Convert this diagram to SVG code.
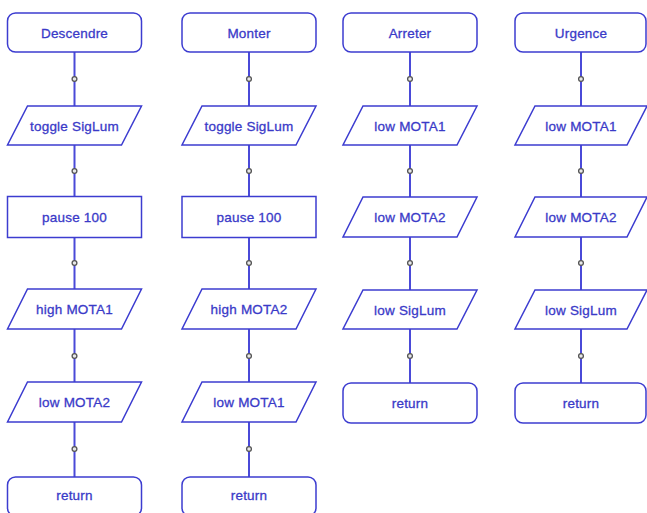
<svg xmlns="http://www.w3.org/2000/svg" width="647" height="513" viewBox="0 0 647 513">
<style>
.s{fill:#ffffff;stroke:#3c3cd0;stroke-width:1.5}
.t{font-family:"Liberation Sans",Arial,sans-serif;font-size:13.5px;fill:#3a3ac8;text-anchor:middle;stroke:#3a3ac8;stroke-width:0.3;letter-spacing:0.2px}
.c{stroke:#4a4ad8;stroke-width:2;fill:none}
.d{fill:#e8e8e8;stroke:#555555;stroke-width:1.3}
</style>
<rect width="647" height="513" fill="#ffffff"/>
<g id="connectors">
<path class="c" d="M74.5 52V477M249 52V477M410 52V383M581 52V383"/>
<g>
<circle class="d" cx="74.5" cy="79" r="2.4"/><circle class="d" cx="74.5" cy="171" r="2.4"/><circle class="d" cx="74.5" cy="263" r="2.4"/><circle class="d" cx="74.5" cy="356" r="2.4"/><circle class="d" cx="74.5" cy="449" r="2.4"/>
<circle class="d" cx="249" cy="79" r="2.4"/><circle class="d" cx="249" cy="171" r="2.4"/><circle class="d" cx="249" cy="263" r="2.4"/><circle class="d" cx="249" cy="356" r="2.4"/><circle class="d" cx="249" cy="449" r="2.4"/>
<circle class="d" cx="410" cy="79" r="2.4"/><circle class="d" cx="410" cy="171" r="2.4"/><circle class="d" cx="410" cy="263" r="2.4"/><circle class="d" cx="410" cy="356" r="2.4"/>
<circle class="d" cx="581" cy="79" r="2.4"/><circle class="d" cx="581" cy="171" r="2.4"/><circle class="d" cx="581" cy="263" r="2.4"/><circle class="d" cx="581" cy="356" r="2.4"/>
</g>
</g>
<g id="descendre"><rect class="s" x="7.5" y="13" width="134" height="39" rx="8"/><text class="t" x="74.5" y="37.5">Descendre</text></g>
<g id="d_toggle"><path class="s" d="M27.5 106H141.5L121.5 145H7.5Z"/><text class="t" x="74.5" y="130.5">toggle SigLum</text></g>
<g id="d_pause"><rect class="s" x="7.5" y="196.5" width="134" height="41"/><text class="t" x="74.5" y="221.5">pause 100</text></g>
<g id="d_high"><path class="s" d="M27.5 289H141.5L121.5 329H7.5Z"/><text class="t" x="74.5" y="313.5">high MOTA1</text></g>
<g id="d_low"><path class="s" d="M27.5 382H141.5L121.5 422H7.5Z"/><text class="t" x="74.5" y="406.5">low MOTA2</text></g>
<g id="d_return"><rect class="s" x="7.5" y="477" width="134" height="39" rx="8"/><text class="t" x="74.5" y="499.5">return</text></g>

<g id="monter"><rect class="s" x="182" y="13" width="134" height="39" rx="8"/><text class="t" x="249" y="37.5">Monter</text></g>
<g id="m_toggle"><path class="s" d="M202 106H316L296 145H182Z"/><text class="t" x="249" y="130.5">toggle SigLum</text></g>
<g id="m_pause"><rect class="s" x="182" y="196.5" width="134" height="41"/><text class="t" x="249" y="221.5">pause 100</text></g>
<g id="m_high"><path class="s" d="M202 289H316L296 329H182Z"/><text class="t" x="249" y="313.5">high MOTA2</text></g>
<g id="m_low"><path class="s" d="M202 382H316L296 422H182Z"/><text class="t" x="249" y="406.5">low MOTA1</text></g>
<g id="m_return"><rect class="s" x="182" y="477" width="134" height="39" rx="8"/><text class="t" x="249" y="499.5">return</text></g>

<g id="arreter"><rect class="s" x="343" y="13" width="134" height="39" rx="8"/><text class="t" x="410" y="37.5">Arreter</text></g>
<g id="a_low1"><path class="s" d="M363 106H477L457 145H343Z"/><text class="t" x="410" y="130.5">low MOTA1</text></g>
<g id="a_low2"><path class="s" d="M363 197H477L457 237H343Z"/><text class="t" x="410" y="221.5">low MOTA2</text></g>
<g id="a_low3"><path class="s" d="M363 290H477L457 329H343Z"/><text class="t" x="410" y="314.5">low SigLum</text></g>
<g id="a_return"><rect class="s" x="343" y="383" width="134" height="40" rx="8"/><text class="t" x="410" y="407.5">return</text></g>

<g id="urgence"><rect class="s" x="515" y="13" width="131" height="39" rx="8"/><text class="t" x="581" y="37.5">Urgence</text></g>
<g id="u_low1"><path class="s" d="M535 106H647L627 145H515Z"/><text class="t" x="581" y="130.5">low MOTA1</text></g>
<g id="u_low2"><path class="s" d="M535 197H647L627 237H515Z"/><text class="t" x="581" y="221.5">low MOTA2</text></g>
<g id="u_low3"><path class="s" d="M535 290H647L627 329H515Z"/><text class="t" x="581" y="314.5">low SigLum</text></g>
<g id="u_return"><rect class="s" x="515" y="383" width="131" height="40" rx="8"/><text class="t" x="581" y="407.5">return</text></g>
</svg>
